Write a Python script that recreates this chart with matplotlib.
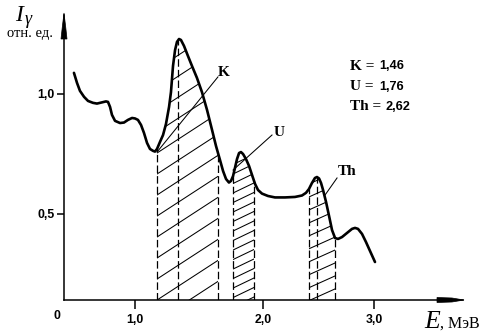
import numpy as np
import matplotlib
matplotlib.use("Agg")
import matplotlib.pyplot as plt
from matplotlib.patches import Polygon

# Gamma-ray spectrum: energy (MeV) and relative intensity
energy = [0.523, 0.547, 0.570, 0.602, 0.633, 0.672, 0.703, 0.742, 0.773, 0.789,
          0.805, 0.820, 0.844, 0.883, 0.914, 0.945, 0.977, 1.000, 1.023, 1.047,
          1.070, 1.094, 1.117, 1.141, 1.156, 1.172, 1.195, 1.219, 1.242, 1.266,
          1.281, 1.297, 1.313, 1.328, 1.344, 1.359, 1.383, 1.414, 1.445, 1.484,
          1.523, 1.563, 1.602, 1.633, 1.664, 1.688, 1.711, 1.734, 1.750, 1.766,
          1.781, 1.797, 1.813, 1.828, 1.844, 1.867, 1.891, 1.914, 1.938, 1.961,
          1.992, 2.045, 2.108, 2.198, 2.288, 2.351, 2.387, 2.414, 2.441, 2.468,
          2.486, 2.505, 2.523, 2.541, 2.568, 2.595, 2.622, 2.649, 2.676, 2.712,
          2.757, 2.802, 2.829, 2.856, 2.892, 2.928, 2.964, 3.009]
intensity = [1.088, 1.046, 1.013, 0.988, 0.971, 0.963, 0.960, 0.965, 0.969, 0.967,
             0.946, 0.913, 0.888, 0.879, 0.881, 0.892, 0.900, 0.898, 0.892, 0.871,
             0.838, 0.796, 0.771, 0.763, 0.760, 0.771, 0.800, 0.829, 0.875, 0.946,
             1.008, 1.117, 1.183, 1.217, 1.229, 1.225, 1.200, 1.158, 1.117, 1.067,
             1.008, 0.933, 0.850, 0.783, 0.725, 0.679, 0.646, 0.631, 0.638, 0.658,
             0.692, 0.729, 0.754, 0.758, 0.750, 0.729, 0.700, 0.663, 0.625, 0.600,
             0.585, 0.575, 0.569, 0.569, 0.571, 0.577, 0.588, 0.604, 0.629, 0.650,
             0.654, 0.648, 0.629, 0.600, 0.550, 0.492, 0.433, 0.400, 0.396, 0.404,
             0.421, 0.438, 0.442, 0.438, 0.417, 0.383, 0.346, 0.300]

# Energy windows (boundaries and peak line) for K, U, Th
k_window = [1.172, 1.336, 1.648]
u_window = [1.766, 1.930]
th_window = [2.414, 2.486, 2.649]

# Window labels, leader lines and summary values
window_names = ["K", "U", "Th"]
label_pos = [(1.695, 1.088), (2.144, 0.838), (2.757, 0.679)]
leader_lines = [((1.172, 0.758), (1.648, 1.071)),
                ((1.766, 0.683), (2.081, 0.829)),
                ((2.559, 0.579), (2.667, 0.650))]
window_values = ["1,46", "1,76", "2,62"]

x_ticks = [1.0, 2.0, 3.0]
x_ticklabels = ["1,0", "2,0", "3,0"]
y_ticks = [0.5, 1.0]
y_ticklabels = ["0,5", "1,0"]

W, H = 483, 334
SERIF = "Liberation Serif"
SANS = "Liberation Sans"

fig = plt.figure(figsize=(W / 100, H / 100), dpi=100)
ax = fig.add_axes([64 / W, (H - 300) / H, (463 - 64) / W, (300 - 15) / H])

# hand-drawn energy axis: uneven spacing between the graduations
_e_nodes = [0.0, 1.0, 2.0, 3.0, 4.0]
_u_nodes = [7.0, 135.0, 263.0, 374.0, 485.0]
ax.set_xscale("function",
              functions=(lambda x: np.interp(x, _e_nodes, _u_nodes),
                         lambda u: np.interp(u, _u_nodes, _e_nodes)))
x_lo, x_hi = 0.4453, 3.8018
y_lo, y_hi = 0.1417, 1.329
ax.set_xlim(x_lo, x_hi)
ax.set_ylim(y_lo, y_hi)

for s in ("top", "right"):
    ax.spines[s].set_visible(False)
for s in ("left", "bottom"):
    ax.spines[s].set_linewidth(1.1)

ax.set_xticks(x_ticks)
ax.set_xticklabels(x_ticklabels)
ax.set_yticks(y_ticks)
ax.set_yticklabels(y_ticklabels)
ax.tick_params(axis="x", direction="out", length=6.5, width=1.1, pad=3.5)
ax.tick_params(axis="y", direction="out", length=5, width=1.1, pad=1.5)
for lab in ax.get_xticklabels() + ax.get_yticklabels():
    lab.set_fontfamily(SANS)
    lab.set_fontweight("bold")
    lab.set_fontsize(8.8)

# spectrum curve
ax.plot(energy, intensity, color="black", lw=1.9, solid_joinstyle="round",
        solid_capstyle="round", zorder=5)


def curve_at(x):
    return float(np.interp(x, energy, intensity))


def shade_window(bounds, slope, step, phase):
    xl, xr = bounds[0], bounds[-1]
    xs = [xl] + [e for e in energy if xl < e < xr] + [xr]
    ys = [curve_at(x) for x in xs]
    verts = list(zip(xs, ys)) + [(xr, y_lo), (xl, y_lo)]
    clip = Polygon(verts, closed=True, transform=ax.transData,
                   facecolor="none", edgecolor="none")
    ax.add_patch(clip)
    span = slope * (xr - xl)
    c = phase
    while c > y_lo - span:
        c -= step
    while c < y_hi:
        ln, = ax.plot([xl, xr], [c, c + span], color="black", lw=0.75)
        ln.set_clip_path(clip)
        c += step
    for b in bounds:
        ax.plot([b, b], [y_lo, curve_at(b)], color="black", lw=0.9,
                ls=(0, (6, 2.5)))


shade_window(k_window, slope=0.347, step=0.0875, phase=0.579)
shade_window(u_window, slope=0.256, step=0.0396, phase=0.5875)
shade_window(th_window, slope=0.208, step=0.054, phase=0.517)

for (p0, p1), name, pos in zip(leader_lines, window_names, label_pos):
    ax.plot([p0[0], p1[0]], [p0[1], p1[1]], color="black", lw=0.75)
    ax.text(pos[0], pos[1], name, family=SERIF, fontweight="bold",
            fontsize=11, ha="center", va="center")

# axis arrowheads
def px_to_axes(pts):
    return [((x - 64) / 399, (300 - y) / 285) for x, y in pts]


ax.add_patch(Polygon(px_to_axes([(64, 13), (62.3, 27), (61, 39), (67, 39), (65.7, 27)]),
                     closed=True, transform=ax.transAxes, facecolor="black",
                     edgecolor="black", lw=0.5, clip_on=False))
ax.add_patch(Polygon(px_to_axes([(437, 297.5), (452, 298), (464, 300), (452, 302), (437, 302.5)]),
                     closed=True, transform=ax.transAxes, facecolor="black",
                     edgecolor="black", lw=0.5, clip_on=False))


def ftext(x, y, s, **kw):
    fig.text(x / W, 1 - y / H, s, **kw)


# axis titles
ftext(15, 21, "I", family=SERIF, style="italic", fontsize=17, va="baseline")
ftext(25, 24, "γ", family=SERIF, style="italic", fontsize=13, va="baseline")
ftext(30, 34, "отн. ед.", family=SERIF, fontsize=10.5, ha="center", va="center")
ftext(57, 316, "0", family=SANS, fontweight="bold", fontsize=8.8, ha="center", va="center")
ftext(424, 328, "E", family=SERIF, style="italic", fontsize=18.5, va="baseline")
ftext(440, 328, ", МэВ", family=SERIF, fontsize=11.5, va="baseline")

# summary of window energies
for i, (name, val) in enumerate(zip(window_names, window_values)):
    y = 66 + i * 20.5
    ftext(350, y, name + " =", family=SERIF, fontweight="bold", fontsize=11,
          va="center")
    ftext(379 if name != "Th" else 385, y, val, family=SANS, fontweight="bold",
          fontsize=9.2, va="center")

fig.savefig("out.png", dpi=100)
